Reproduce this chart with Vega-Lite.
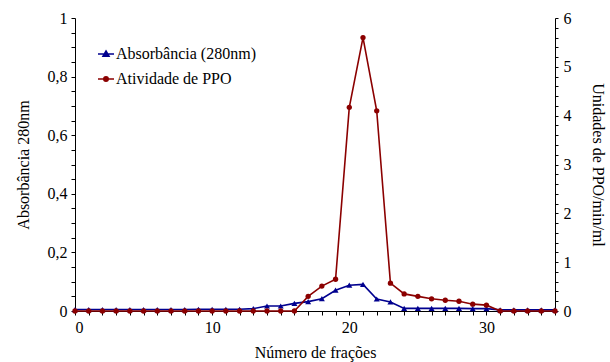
{
  "$schema": "https://vega.github.io/schema/vega-lite/v6.json",
  "width": 480,
  "height": 293,
  "autosize": "none",
  "padding": {"left": 75, "top": 18, "right": 55, "bottom": 51},
  "config": {
    "font": "Liberation Serif",
    "view": {"stroke": null},
    "axis": {
      "grid": false,
      "labelFont": "Liberation Serif",
      "titleFont": "Liberation Serif",
      "labelFontSize": 16,
      "titleFontSize": 16,
      "titleFontWeight": "normal",
      "labelColor": "#000000",
      "titleColor": "#000000",
      "domainColor": "#000000",
      "tickColor": "#000000",
      "domainWidth": 1,
      "tickWidth": 1
    },
    "legend": {"labelFont": "Liberation Serif", "labelFontSize": 16, "labelColor": "#000000"}
  },
  "data": {
    "values": [
      {"f": 0, "s": "Absorbância (280nm)", "v": 0.005},
      {"f": 1, "s": "Absorbância (280nm)", "v": 0.005},
      {"f": 2, "s": "Absorbância (280nm)", "v": 0.005},
      {"f": 3, "s": "Absorbância (280nm)", "v": 0.005},
      {"f": 4, "s": "Absorbância (280nm)", "v": 0.005},
      {"f": 5, "s": "Absorbância (280nm)", "v": 0.005},
      {"f": 6, "s": "Absorbância (280nm)", "v": 0.005},
      {"f": 7, "s": "Absorbância (280nm)", "v": 0.005},
      {"f": 8, "s": "Absorbância (280nm)", "v": 0.005},
      {"f": 9, "s": "Absorbância (280nm)", "v": 0.006},
      {"f": 10, "s": "Absorbância (280nm)", "v": 0.006},
      {"f": 11, "s": "Absorbância (280nm)", "v": 0.006},
      {"f": 12, "s": "Absorbância (280nm)", "v": 0.006},
      {"f": 13, "s": "Absorbância (280nm)", "v": 0.008},
      {"f": 14, "s": "Absorbância (280nm)", "v": 0.017},
      {"f": 15, "s": "Absorbância (280nm)", "v": 0.017},
      {"f": 16, "s": "Absorbância (280nm)", "v": 0.026},
      {"f": 17, "s": "Absorbância (280nm)", "v": 0.032},
      {"f": 18, "s": "Absorbância (280nm)", "v": 0.042},
      {"f": 19, "s": "Absorbância (280nm)", "v": 0.071},
      {"f": 20, "s": "Absorbância (280nm)", "v": 0.088},
      {"f": 21, "s": "Absorbância (280nm)", "v": 0.091},
      {"f": 22, "s": "Absorbância (280nm)", "v": 0.041},
      {"f": 23, "s": "Absorbância (280nm)", "v": 0.031},
      {"f": 24, "s": "Absorbância (280nm)", "v": 0.009},
      {"f": 25, "s": "Absorbância (280nm)", "v": 0.009},
      {"f": 26, "s": "Absorbância (280nm)", "v": 0.009},
      {"f": 27, "s": "Absorbância (280nm)", "v": 0.009},
      {"f": 28, "s": "Absorbância (280nm)", "v": 0.009},
      {"f": 29, "s": "Absorbância (280nm)", "v": 0.008},
      {"f": 30, "s": "Absorbância (280nm)", "v": 0.008},
      {"f": 31, "s": "Absorbância (280nm)", "v": 0.004},
      {"f": 32, "s": "Absorbância (280nm)", "v": 0.004},
      {"f": 33, "s": "Absorbância (280nm)", "v": 0.004},
      {"f": 34, "s": "Absorbância (280nm)", "v": 0.004},
      {"f": 35, "s": "Absorbância (280nm)", "v": 0.004},
      {"f": 0, "s": "Atividade de PPO", "v": 0},
      {"f": 1, "s": "Atividade de PPO", "v": 0},
      {"f": 2, "s": "Atividade de PPO", "v": 0},
      {"f": 3, "s": "Atividade de PPO", "v": 0},
      {"f": 4, "s": "Atividade de PPO", "v": 0},
      {"f": 5, "s": "Atividade de PPO", "v": 0},
      {"f": 6, "s": "Atividade de PPO", "v": 0},
      {"f": 7, "s": "Atividade de PPO", "v": 0},
      {"f": 8, "s": "Atividade de PPO", "v": 0},
      {"f": 9, "s": "Atividade de PPO", "v": 0},
      {"f": 10, "s": "Atividade de PPO", "v": 0},
      {"f": 11, "s": "Atividade de PPO", "v": 0},
      {"f": 12, "s": "Atividade de PPO", "v": 0},
      {"f": 13, "s": "Atividade de PPO", "v": 0},
      {"f": 14, "s": "Atividade de PPO", "v": 0},
      {"f": 15, "s": "Atividade de PPO", "v": 0},
      {"f": 16, "s": "Atividade de PPO", "v": 0},
      {"f": 17, "s": "Atividade de PPO", "v": 0.30},
      {"f": 18, "s": "Atividade de PPO", "v": 0.51},
      {"f": 19, "s": "Atividade de PPO", "v": 0.65},
      {"f": 20, "s": "Atividade de PPO", "v": 4.17},
      {"f": 21, "s": "Atividade de PPO", "v": 5.60},
      {"f": 22, "s": "Atividade de PPO", "v": 4.10},
      {"f": 23, "s": "Atividade de PPO", "v": 0.57},
      {"f": 24, "s": "Atividade de PPO", "v": 0.35},
      {"f": 25, "s": "Atividade de PPO", "v": 0.30},
      {"f": 26, "s": "Atividade de PPO", "v": 0.25},
      {"f": 27, "s": "Atividade de PPO", "v": 0.22},
      {"f": 28, "s": "Atividade de PPO", "v": 0.20},
      {"f": 29, "s": "Atividade de PPO", "v": 0.14},
      {"f": 30, "s": "Atividade de PPO", "v": 0.12},
      {"f": 31, "s": "Atividade de PPO", "v": 0},
      {"f": 32, "s": "Atividade de PPO", "v": 0},
      {"f": 33, "s": "Atividade de PPO", "v": 0},
      {"f": 34, "s": "Atividade de PPO", "v": 0},
      {"f": 35, "s": "Atividade de PPO", "v": 0}
    ]
  },
  "encoding": {
    "x": {
      "field": "f",
      "type": "quantitative",
      "scale": {"domain": [0, 35], "nice": false},
      "axis": {
        "title": "Número de frações",
        "values": [0,1,2,3,4,5,6,7,8,9,10,11,12,13,14,15,16,17,18,19,20,21,22,23,24,25,26,27,28,29,30,31,32,33,34,35],
        "labelExpr": "datum.value % 10 == 0 ? datum.label : ''",
        "tickSize": 4,
        "labelPadding": 4,
        "titlePadding": 9
      }
    },
    "color": {
      "field": "s",
      "type": "nominal",
      "scale": {"domain": ["Absorbância (280nm)", "Atividade de PPO"], "range": ["#00008f", "#8b0000"]},
      "legend": {
        "title": null,
        "orient": "none",
        "legendX": 22,
        "legendY": 27,
        "rowPadding": 8,
        "labelOffset": 1,
        "symbolSize": 256,
        "symbolStrokeWidth": 1.5,
        "symbolType": {"expr": "datum.value == 'Absorbância (280nm)' ? 'M-1,0H1M0,-0.38L0.38,0.28L-0.38,0.28Z' : 'M-1,0H1M-0.28,0A0.28,0.28 0 1,0 0.28,0A0.28,0.28 0 1,0 -0.28,0Z'"},
        "symbolFillColor": {"expr": "datum.value == 'Absorbância (280nm)' ? '#00008f' : '#8b0000'"}
      }
    }
  },
  "layer": [
    {
      "transform": [{"filter": "datum.s == 'Absorbância (280nm)'"}],
      "mark": {"type": "line", "strokeWidth": 1.6, "point": {"shape": "triangle-up", "filled": true, "size": 36}},
      "encoding": {
        "y": {
          "field": "v",
          "type": "quantitative",
          "scale": {"domain": [0, 1], "nice": false},
          "axis": {
            "orient": "left",
            "title": "Absorbância 280nm",
            "values": [0,0.05,0.1,0.15,0.2,0.25,0.3,0.35,0.4,0.45,0.5,0.55,0.6,0.65,0.7,0.75,0.8,0.85,0.9,0.95,1],
            "labelExpr": "round(datum.value*100) % 20 == 0 ? replace(format(datum.value, '.1~f'), '.', ',') : ''",
            "tickSize": 4,
            "labelPadding": 4,
            "titlePadding": 16
          }
        }
      }
    },
    {
      "transform": [{"filter": "datum.s == 'Atividade de PPO'"}],
      "mark": {"type": "line", "strokeWidth": 1.6, "point": {"shape": "circle", "filled": true, "size": 28}},
      "encoding": {
        "y": {
          "field": "v",
          "type": "quantitative",
          "scale": {"domain": [0, 6], "nice": false},
          "axis": {
            "orient": "right",
            "title": "Unidades de PPO/min/ml",
            "values": [0,0.2,0.4,0.6,0.8,1,1.2,1.4,1.6,1.8,2,2.2,2.4,2.6,2.8,3,3.2,3.4,3.6,3.8,4,4.2,4.4,4.6,4.8,5,5.2,5.4,5.6,5.8,6],
            "labelExpr": "round(datum.value*10) % 10 == 0 ? format(datum.value, 'd') : ''",
            "tickSize": 3,
            "labelPadding": 5,
            "titlePadding": 18
          }
        }
      }
    }
  ],
  "resolve": {"scale": {"y": "independent"}}
}
